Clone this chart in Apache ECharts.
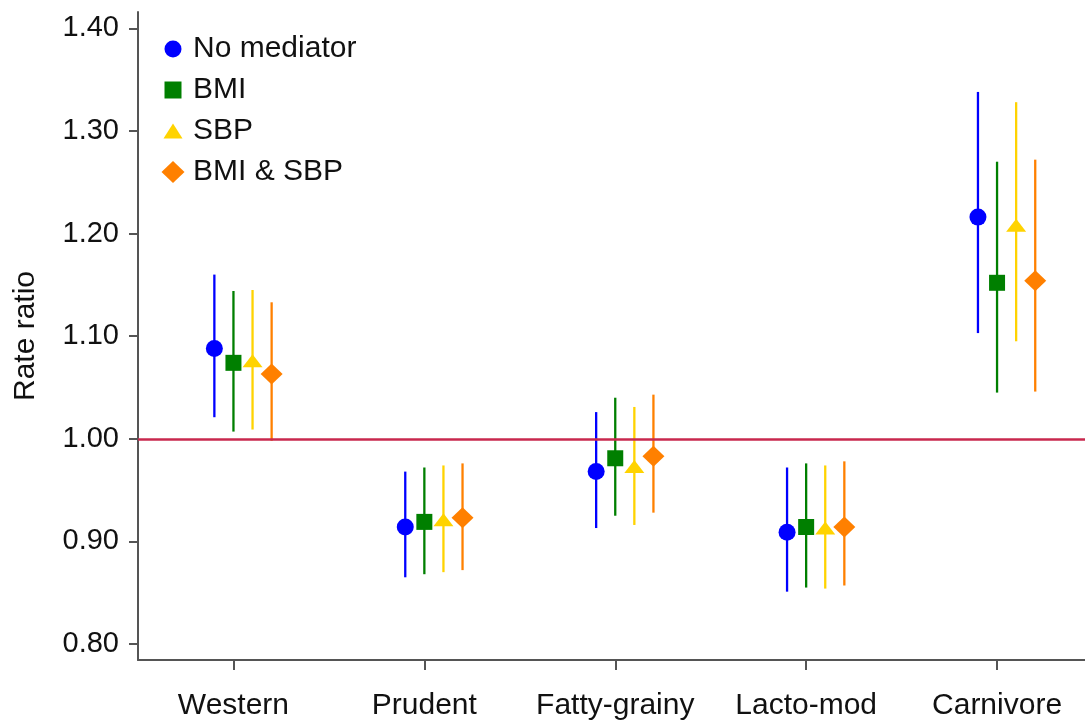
<!DOCTYPE html>
<html>
<head>
<meta charset="utf-8">
<title>Rate ratio by dietary pattern</title>
<script src="https://cdn.jsdelivr.net/npm/echarts/dist/echarts.min.js"></script>
<style>
  html, body { margin: 0; padding: 0; background: #ffffff; }
  #chart { width: 1085px; height: 723px; }
</style>
</head>
<body>
<div id="chart"></div>
<script>
// Dietary patterns on the x axis
const categories = ['Western', 'Prudent', 'Fatty-grainy', 'Lacto-mod', 'Carnivore'];
const seriesNames = ['No mediator', 'BMI', 'SBP', 'BMI & SBP'];
const yTicks = [0.80, 0.90, 1.00, 1.10, 1.20, 1.30, 1.40];

// Rate ratio estimates with lower / upper confidence limits
const noMedEst  = [1.088, 0.914, 0.968, 0.909, 1.216];
const noMedLow  = [1.021, 0.865, 0.913, 0.851, 1.103];
const noMedHigh = [1.160, 0.968, 1.026, 0.972, 1.338];

const bmiEst  = [1.074, 0.919, 0.981, 0.914, 1.152];
const bmiLow  = [1.007, 0.868, 0.925, 0.855, 1.045];
const bmiHigh = [1.144, 0.972, 1.040, 0.976, 1.270];

const sbpEst  = [1.076, 0.921, 0.973, 0.913, 1.208];
const sbpLow  = [1.009, 0.870, 0.916, 0.854, 1.095];
const sbpHigh = [1.145, 0.974, 1.031, 0.974, 1.328];

const bothEst  = [1.063, 0.923, 0.983, 0.914, 1.154];
const bothLow  = [0.998, 0.872, 0.928, 0.857, 1.046];
const bothHigh = [1.133, 0.976, 1.043, 0.978, 1.272];

const groups = [
  { name: seriesNames[0], est: noMedEst, low: noMedLow, high: noMedHigh, color: '#0000FF', symbol: 'circle',   size: 17,       offset: -0.1, icon: [17, 17] },
  { name: seriesNames[1], est: bmiEst,   low: bmiLow,   high: bmiHigh,   color: '#007F00', symbol: 'rect',     size: 16,       offset: 0.0,  icon: [17, 17] },
  { name: seriesNames[2], est: sbpEst,   low: sbpLow,   high: sbpHigh,   color: '#FFD300', symbol: 'triangle', size: [20, 13], offset: 0.1,  icon: [19, 15] },
  { name: seriesNames[3], est: bothEst,  low: bothLow,  high: bothHigh,  color: '#FF8000', symbol: 'diamond',  size: [22, 21], offset: 0.2,  icon: [23, 22] }
];

const FONT = '"Liberation Sans", Arial, Helvetica, sans-serif';
const AXIS_COLOR = '#555555';
const TEXT_COLOR = '#111111';

const series = [];
groups.forEach(function (g, gi) {
  // Confidence interval whiskers
  series.push({
    type: 'custom',
    silent: true,
    z: 2,
    data: categories.map(function (c, i) { return [i + 1 + g.offset, g.low[i], g.high[i]]; }),
    encode: { x: 0, y: [1, 2] },
    renderItem: function (params, api) {
      const p1 = api.coord([api.value(0), api.value(1)]);
      const p2 = api.coord([api.value(0), api.value(2)]);
      return {
        type: 'line',
        shape: { x1: p1[0], y1: p1[1], x2: p2[0], y2: p2[1] },
        style: { stroke: g.color, lineWidth: 2.3 }
      };
    }
  });
  // Point estimates
  const sc = {
    type: 'scatter',
    name: g.name,
    z: 4,
    symbol: g.symbol,
    symbolSize: g.size,
    itemStyle: { color: g.color, opacity: 1 },
    data: categories.map(function (c, i) { return [i + 1 + g.offset, g.est[i]]; })
  };
  if (gi === 0) {
    // Reference line at rate ratio 1
    sc.markLine = {
      silent: true,
      symbol: 'none',
      z: 3,
      label: { show: false },
      lineStyle: { color: '#C8284E', width: 2.5, type: 'solid' },
      data: [{ yAxis: 1 }]
    };
  }
  series.push(sc);
});

// One legend block per entry so each marker keeps its own proportions
const ICON_CENTER_X = 168;
const TEXT_LEFT_X = 188;
const ROW_TOP = 29;
const ROW_STEP = 41;
const legends = groups.map(function (g, gi) {
  const w = g.icon[0], h = g.icon[1];
  const left = ICON_CENTER_X - w / 2;
  return {
    orient: 'vertical',
    left: left,
    top: ROW_TOP + gi * ROW_STEP,
    itemWidth: w,
    itemHeight: h,
    selectedMode: false,
    data: [g.name],
    textStyle: {
      fontFamily: FONT, fontSize: 30, color: TEXT_COLOR, lineHeight: 30,
      padding: [0, 0, 0, TEXT_LEFT_X - (left + w + 5)]
    }
  };
});

const chart = echarts.init(document.getElementById('chart'), null, { renderer: 'canvas' });
chart.setOption({
  animation: false,
  backgroundColor: '#ffffff',
  textStyle: { fontFamily: FONT },
  grid: { left: 138, right: 0, top: 12, bottom: 63, containLabel: false },
  legend: legends,
  xAxis: {
    type: 'value',
    min: 0.5,
    max: 5.4607,
    axisLine: { show: true, onZero: false, lineStyle: { color: AXIS_COLOR, width: 2 } },
    axisTick: { show: true, customValues: [1, 2, 3, 4, 5], length: 10, lineStyle: { color: AXIS_COLOR, width: 2 } },
    axisLabel: {
      customValues: [1, 2, 3, 4, 5],
      margin: 31,
      fontFamily: FONT,
      fontSize: 30,
      color: TEXT_COLOR,
      formatter: function (v) { return categories[Math.round(v) - 1]; }
    },
    splitLine: { show: false }
  },
  yAxis: {
    type: 'value',
    min: 0.7844,
    max: 1.4159,
    name: 'Rate ratio',
    nameLocation: 'middle',
    nameRotate: 90,
    nameGap: 97,
    nameTextStyle: { fontFamily: FONT, fontSize: 30, color: TEXT_COLOR },
    axisLine: { show: true, onZero: false, lineStyle: { color: AXIS_COLOR, width: 2 } },
    axisTick: { show: true, customValues: yTicks, length: 9, lineStyle: { color: AXIS_COLOR, width: 2 } },
    axisLabel: {
      customValues: yTicks,
      margin: 19,
      fontFamily: FONT,
      fontSize: 29,
      color: TEXT_COLOR,
      formatter: function (v) { return v.toFixed(2); }
    },
    splitLine: { show: false }
  },
  series: series
});
</script>
</body>
</html>
